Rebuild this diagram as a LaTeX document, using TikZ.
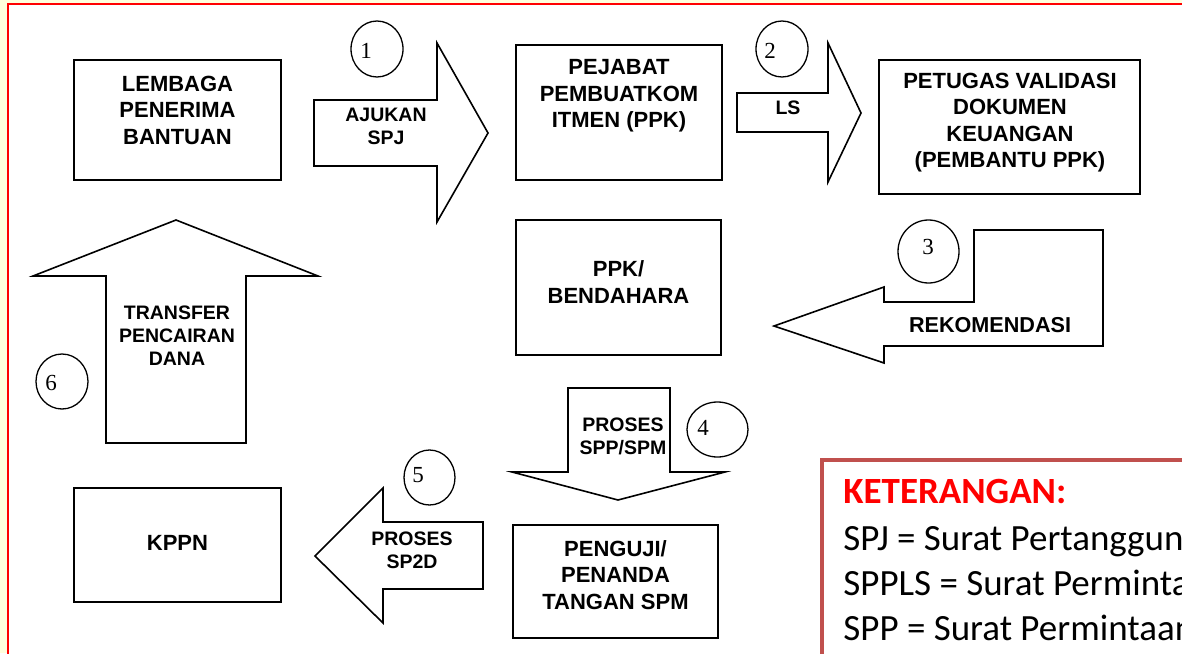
\documentclass[tikz,border=0pt]{standalone}
\usepackage{fontspec}
\setmainfont{Liberation Sans}
\newfontfamily\serifnum{Liberation Serif}
\newfontfamily\calibri{Carlito}
\usetikzlibrary{shapes.geometric}
\definecolor{bgyellow}{RGB}{255,255,221}
\definecolor{framered}{RGB}{255,0,0}
\definecolor{legendred}{RGB}{192,80,77}
\definecolor{keyred}{RGB}{255,0,0}
\begin{document}
\begin{tikzpicture}[x=0.5pt,y=-0.5pt,
 box/.style={draw=black, line width=1pt, rectangle, inner sep=0pt},
 boxtext/.style={font=\bfseries\fontsize{11}{13.25}\selectfont, align=center, inner sep=0pt},
 arrowtext/.style={font=\bfseries\fontsize{9.75}{11.5}\selectfont, align=center, inner sep=0pt},
 blockarrow/.style={draw=black, line width=0.8pt, fill=white, line join=miter},
 numcirc/.style={draw=black, line width=0.65pt, ellipse, inner sep=0pt},
 numtext/.style={font=\serifnum\fontsize{11.5}{12}\selectfont, inner sep=0pt},
 legtext/.style={font=\calibri\fontsize{18.5}{21}\selectfont, anchor=base west, inner sep=0pt},
]
\useasboundingbox (0,0) rectangle (1182,653);
\clip (0,0) rectangle (1182,653);
\fill[bgyellow] (0,0) rectangle (1182,653);
\fill[white] (7.7,3.5) rectangle (1190,660);
\draw[framered, line width=1pt] (7.7,660) -- (7.7,3.5) -- (1190,3.5);

% boxes
\node[box, minimum width=103.5pt, minimum height=60pt] (lembaga) at (177.5,120) {};
\node[boxtext] (lembagaT) at (177.5,110) {LEMBAGA\\PENERIMA\\BANTUAN};
\node[box, minimum width=103pt, minimum height=67.5pt] (pejabat) at (619,112.5) {};
\node[boxtext] (pejabatT) at (619,96) {PEJABAT\\PEMBUATKOM\\ITMEN (PPK)};
\node[box, minimum width=130.5pt, minimum height=67pt] (petugas) at (1009.5,127) {};
\node[boxtext] (petugasT) at (1010,122.5) {PETUGAS VALIDASI\\DOKUMEN\\KEUANGAN\\(PEMBANTU PPK)};
\node[box, minimum width=102.5pt, minimum height=67.5pt] (ppk) at (618.5,287.5) {};
\node[boxtext] (ppkT) at (618.5,282) {PPK/\\BENDAHARA};
\node[box, minimum width=103.5pt, minimum height=57pt] (kppn) at (177.5,545) {};
\node[boxtext] (kppnT) at (177.5,543) {KPPN};
\node[box, minimum width=102.5pt, minimum height=56.5pt] (penguji) at (615.5,581.5) {};
\node[boxtext] (pengujiT) at (615.5,575) {PENGUJI/\\PENANDA\\TANGAN SPM};

% block arrows
\draw[blockarrow] (314,100) -- (437,100) -- (437,43) -- (488,133) -- (437,222) -- (437,166) -- (314,166) -- cycle;
\node[arrowtext] (a1T) at (386,126) {AJUKAN\\SPJ};
\draw[blockarrow] (737,93) -- (828,93) -- (828,43) -- (861,113) -- (828,182) -- (828,132) -- (737,132) -- cycle;
\node[arrowtext] (a2T) at (788,108) {LS};
\draw[blockarrow] (974,230) -- (1103,230) -- (1103,346) -- (884,346) -- (884,363) -- (774,326) -- (884,287) -- (884,302) -- (974,302) -- cycle;
\node[arrowtext, font=\bfseries\fontsize{10.8}{12}\selectfont] (a3T) at (990,325) {REKOMENDASI};
\draw[blockarrow] (568,388) -- (670,388) -- (670,472) -- (725,472) -- (618,500) -- (512,472) -- (568,472) -- cycle;
\node[arrowtext] (a4T) at (623,436) {PROSES\\SPP/SPM};
\draw[blockarrow] (483,522) -- (383,522) -- (383,488) -- (315,556) -- (383,623) -- (383,589) -- (483,589) -- cycle;
\node[arrowtext] (a5T) at (412,550) {PROSES\\SP2D};
\draw[blockarrow] (106,443) -- (106,276) -- (33,276) -- (176,220) -- (318,276) -- (246,276) -- (246,443) -- cycle;
\node[arrowtext] (a6T) at (177,336) {TRANSFER\\PENCAIRAN\\DANA};

% numbered circles
\node[numcirc, minimum width=26pt, minimum height=28pt] (c1) at (377,49) {};
\node[numtext] (n1) at (366,51) {1};
\node[numcirc, minimum width=26pt, minimum height=28pt] (c2) at (782,49) {};
\node[numtext] (n2) at (770,51) {2};
\node[numcirc, minimum width=30.5pt, minimum height=31.5pt] (c3) at (928.5,251.5) {};
\node[numtext] (n3) at (928,247) {3};
\node[numcirc, minimum width=30.5pt, minimum height=27.5pt] (c4) at (717.5,429.5) {};
\node[numtext] (n4) at (703,428) {4};
\node[numcirc, minimum width=25.5pt, minimum height=27.5pt] (c5) at (429.5,477.5) {};
\node[numtext] (n5) at (418,475) {5};
\node[numcirc, minimum width=26pt, minimum height=27.5pt] (c6) at (62,381.5) {};
\node[numtext] (n6) at (51,383) {6};

% legend
\draw[draw=legendred, line width=2pt, fill=white] (822,460) rectangle (1210,680);
\node[legtext, text=keyred, font=\calibri\bfseries\fontsize{18.5}{21}\selectfont] (k0) at (843,503) {KETERANGAN:};
\node[legtext] (k1) at (843,550) {SPJ = Surat Pertanggungjawaban};
\node[legtext] (k2) at (843,595) {SPPLS = Surat Permintaan Pembayaran Langsung};
\node[legtext] (k3) at (843,640) {SPP = Surat Permintaan Pembayaran};
\end{tikzpicture}
\end{document}
